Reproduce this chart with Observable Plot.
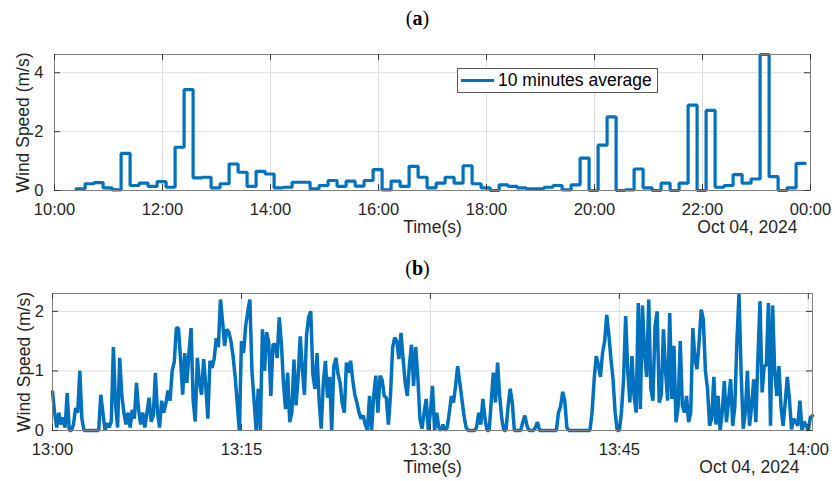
<!DOCTYPE html>
<html>
<head>
<meta charset="utf-8">
<script src="https://cdn.jsdelivr.net/npm/d3@7"></script>
<script src="https://cdn.jsdelivr.net/npm/@observablehq/plot@0.6"></script>
<style>
  html, body { margin: 0; padding: 0; background: #fff; }
  #root { position: relative; width: 835px; height: 481px; overflow: hidden; background: #fff;
          font-family: "Liberation Sans", Arial, Helvetica, sans-serif; }
  .ptitle { position: absolute; left: 0; width: 835px; text-align: center; line-height: 24px;
            font-family: "Liberation Serif", "Times New Roman", serif; font-size: 20px; color: #000; }
  .ptitle b { font-weight: bold; }
  #chartA { position: absolute; left: 0; top: 0; }
  #chartB { position: absolute; left: 0; top: 250px; }
  .legend { position: absolute; left: 457px; top: 68px; width: 201px; height: 25px; box-sizing: border-box;
            border: 1px solid #5a5a5a; background: #fff; }
  .legend .swatch { position: absolute; left: 3px; top: 10px; width: 33px; height: 3px; background: #0072BD; }
  .legend .label { position: absolute; left: 40px; top: 0; line-height: 23px; font-size: 17.5px; color: #000; white-space: nowrap; }
</style>
</head>
<body>
<div id="root">
  <div class="ptitle" style="top:6px">(<b>a</b>)</div>
  <div id="chartA"></div>
  <div class="legend"><div class="swatch"></div><div class="label">10 minutes average</div></div>
  <div class="ptitle" style="top:256px">(<b>b</b>)</div>
  <div id="chartB"></div>
</div>
<script>
// ---------------- DATA ----------------
// Panel (a): 10-minute averages, first step starting 10:24 on Oct 04, 2024
const dateLabel = "Oct 04, 2024";
const aStartHour = 10, aStartMinute = 24, aStepMinutes = 10;
const aValues = [
  0.06, 0.23, 0.27, 0.09, 0.02, 1.26, 0.17, 0.25, 0.14, 0.30, 0.11, 1.47, 3.43, 0.43, 0.45, 0.09,
  0.23, 0.90, 0.62, 0.14, 0.65, 0.56, 0.09, 0.11, 0.28, 0.28,
  0.06, 0.17, 0.34, 0.14, 0.32, 0.15, 0.34, 0.71, 0.02, 0.32, 0.14, 0.82, 0.45, 0.09, 0.25, 0.45,
  0.25, 0.84, 0.23, 0.09, 0.00, 0.19, 0.14, 0.09, 0.06, 0.06,
  0.11, 0.17, 0.02, 0.19, 1.10, 0.00, 1.54, 2.50, 0.00, 0.02, 0.73, 0.09, 0.00, 0.25, 0.00, 0.25,
  2.90, 0.00, 2.72, 0.11, 0.17, 0.54, 0.25, 0.39, 4.62, 0.47, 0.00, 0.09, 0.92
];
const aTickHours = [10, 12, 14, 16, 18, 20, 22, 24];
const aYTicks = [0, 2, 4];
const aYMax = 4.62;

// Panel (b): wind speed samples every 10 s from 13:00:00
const bStepSeconds = 10;
const bValues = [
  0.65, 0.30, 0.05, 0.30, 0.10, 0.22,
  0.05, 0.63, 0.00, 0.00, 0.10, 0.38,
  0.30, 1.00, 0.20, 0.00, 0.00, 0.00,
  0.00, 0.00, 0.00, 0.00, 0.00, 0.60,
  0.30, 0.00, 0.12, 0.05, 0.15, 1.40,
  0.45, 0.05, 1.22, 0.60, 0.30, 0.10,
  0.30, 0.05, 0.35, 0.20, 0.80, 0.35,
  0.10, 0.30, 0.05, 0.30, 0.55, 0.15,
  0.25, 0.97, 0.30, 0.05, 0.50, 0.30,
  0.45, 0.67, 0.50, 1.00, 1.15, 1.72,
  1.72, 1.20, 0.60, 1.30, 0.80, 1.30,
  1.72, 0.50, 0.15, 1.22, 0.80, 0.60,
  1.20, 0.75, 0.20, 1.17, 1.05, 1.20,
  1.55, 1.40, 2.20, 1.83, 1.42, 1.70,
  1.65, 1.50, 1.25, 0.90, 0.45, 0.00,
  1.50, 1.30, 1.75, 2.00, 2.20, 1.00,
  0.50, 0.00, 0.70, 0.00, 1.70, 1.00,
  1.65, 1.47, 0.58, 1.44, 1.45, 1.22,
  1.90, 1.47, 0.80, 0.36, 0.97, 0.14,
  0.30, 1.19, 0.42, 0.90, 1.58, 1.03,
  0.60, 1.60, 1.90, 2.00, 0.95, 0.70,
  1.30, 0.50, 0.03, 0.80, 1.17, 0.55,
  0.90, 0.00, 1.08, 1.22, 0.95, 0.80,
  0.45, 0.30, 1.14, 0.97, 1.17, 0.85,
  0.60, 0.47, 0.30, 0.20, 0.25, 0.10,
  0.00, 0.58, 0.00, 0.58, 0.92, 0.30,
  0.92, 0.85, 0.58, 0.55, 0.10, 0.60,
  1.39, 1.56, 1.50, 1.20, 1.64, 1.20,
  0.80, 0.58, 1.10, 1.44, 0.75, 1.40,
  0.90, 0.20, 0.03, 0.30, 0.53, 0.00,
  0.30, 0.75, 0.00, 0.30, 0.05, 0.00,
  0.10, 0.00, 0.05, 0.30, 0.58, 0.47,
  0.75, 1.08, 0.80, 0.53, 0.25, 0.05,
  0.00, 0.00, 0.00, 0.00, 0.05, 0.30,
  0.10, 0.53, 0.20, 0.00, 0.00, 0.50,
  0.97, 0.47, 1.14, 0.58, 0.20, 0.00,
  0.00, 0.40, 0.70, 0.47, 0.00, 0.00,
  0.00, 0.00, 0.14, 0.25, 0.08, 0.00,
  0.00, 0.00, 0.05, 0.14, 0.00, 0.00,
  0.00, 0.00, 0.00, 0.00, 0.00, 0.00,
  0.00, 0.30, 0.40, 0.65, 0.50, 0.05,
  0.00, 0.00, 0.00, 0.00, 0.00, 0.00,
  0.00, 0.00, 0.00, 0.00, 0.00, 0.30,
  0.86, 1.25, 1.10, 0.90, 1.30, 1.50,
  1.94, 1.60, 1.20, 0.86, 0.30, 0.00,
  0.00, 0.30, 0.86, 1.92, 1.00, 0.47,
  1.25, 0.58, 0.30, 2.14, 0.36, 2.10,
  1.30, 0.90, 2.20, 0.70, 0.50, 1.75,
  2.00, 0.47, 0.60, 1.70, 1.00, 0.50,
  1.97, 0.53, 1.42, 0.14, 0.40, 1.50,
  0.42, 0.30, 0.58, 0.14, 0.30, 1.72,
  1.20, 1.03, 1.50, 2.03, 1.86, 1.00,
  0.70, 0.08, 0.20, 0.90, 0.10, 0.58,
  0.00, 0.30, 0.83, 0.14, 0.50, 0.86,
  0.08, 0.40, 1.50, 2.30, 0.97, 0.03,
  0.30, 1.00, 0.08, 0.40, 0.86, 0.14,
  1.20, 2.17, 0.64, 1.08, 1.10, 2.14,
  0.08, 2.10, 1.00, 0.58, 1.08, 0.40,
  0.08, 0.47, 0.90, 0.53, 0.02, 0.20,
  0.14, 0.08, 0.50, 0.00, 0.15, 0.08,
  0.00, 0.22, 0.25
];
const bTickMinutes = [0, 15, 30, 45, 60];   // minutes after 13:00
const bYTicks = [0, 1, 2];
const bYMax = 2.3;

// ---------------- BUILD ----------------
const at = (h, m = 0, s = 0) => new Date(Date.UTC(2024, 9, 4, h, m, s));
const aStart = at(aStartHour, aStartMinute);
const aData = aValues.map((v, i) => ({ t: new Date(+aStart + i * aStepMinutes * 60000), v }));
aData.push({ t: new Date(+aStart + aValues.length * aStepMinutes * 60000), v: aValues[aValues.length - 1] });
const aTicks = aTickHours.map(h => at(h));

const bStart = at(13, 0);
const bData = bValues.map((v, i) => ({ t: new Date(+bStart + i * bStepSeconds * 1000), v }));
const bTicks = bTickMinutes.map(m => at(13, m));

const fmt = d3.utcFormat("%H:%M");
const FONT = '"Liberation Sans", Arial, Helvetica, sans-serif';
const BLUE = "#0072BD", GRID = "#dedede", FRAME = "#808080", TICK = "#3a3a3a", TXT = "#262626";

function panel({ data, curve, xDomain, xTicks, yMax, yTicks, height, ml, mr, mt, mb, yPad, sw, ylabelShift }) {
  const W = 835;
  const fh = height - mt - mb, fw = W - ml - mr, tl = 6;
  return Plot.plot({
    width: W, height,
    marginLeft: ml, marginRight: mr, marginTop: mt, marginBottom: mb,
    style: { fontFamily: FONT, fontSize: "16.5px", color: TXT, background: "transparent", overflow: "visible" },
    x: { type: "utc", domain: xDomain },
    y: { domain: [0, yMax] },
    marks: [
      Plot.gridX(xTicks, { stroke: GRID, strokeOpacity: 1 }),
      Plot.gridY(yTicks, { stroke: GRID, strokeOpacity: 1 }),
      Plot.line(data, { x: "t", y: "v", curve, stroke: BLUE, strokeWidth: sw, strokeLinejoin: "miter", clip: false }),
      Plot.frame({ stroke: FRAME, strokeWidth: 1 }),
      Plot.tickX(xTicks, { insetTop: fh - tl, stroke: TICK }),
      Plot.tickX(xTicks, { insetBottom: fh - tl, stroke: TICK }),
      Plot.tickY(yTicks, { insetRight: fw - tl, stroke: TICK }),
      Plot.tickY(yTicks, { insetLeft: fw - tl, stroke: TICK }),
      Plot.axisX({ ticks: xTicks, tickFormat: fmt, tickSize: 0, tickPadding: 13, label: null, fontSize: 16.5, fill: TXT }),
      Plot.axisY({ ticks: yTicks, tickFormat: d => String(d), tickSize: 0, tickPadding: yPad, label: null, fontSize: 16.5, fill: TXT }),
      Plot.text(["Time(s)"], { text: d => d, frameAnchor: "bottom", dy: 42, fontSize: 17.5, fill: TXT }),
      Plot.text([dateLabel], { text: d => d, frameAnchor: "bottom-right", textAnchor: "end", dx: -13, dy: 42, fontSize: 17.5, fill: TXT }),
      Plot.text(["Wind Speed (m/s)"], { text: d => d, frameAnchor: "left", textAnchor: "middle", rotate: -90, dx: ylabelShift, fontSize: 17.5, fill: TXT })
    ]
  });
}

document.getElementById("chartA").appendChild(panel({
  data: aData, curve: "step-after",
  xDomain: [at(10), at(24)], xTicks: aTicks,
  yMax: aYMax, yTicks: aYTicks,
  height: 250, ml: 54, mr: 25, mt: 54, mb: 60, yPad: 11, sw: 3.2, ylabelShift: -31
}));

document.getElementById("chartB").appendChild(panel({
  data: bData, curve: "linear",
  xDomain: [at(13, 0), at(14, 0, 20)], xTicks: bTicks,
  yMax: bYMax, yTicks: bYTicks,
  height: 231, ml: 52, mr: 23, mt: 43, mb: 51, yPad: 8.5, sw: 3.5, ylabelShift: -28
}));
</script>
</body>
</html>
